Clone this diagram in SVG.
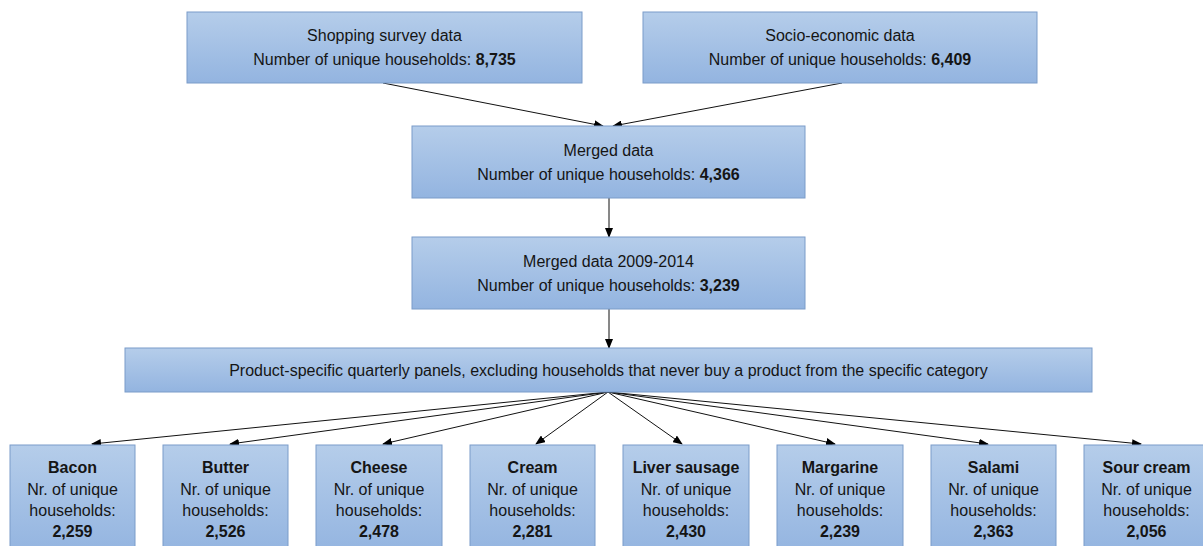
<svg xmlns="http://www.w3.org/2000/svg" width="1203" height="546" viewBox="0 0 1203 546">
<defs>
<linearGradient id="g" x1="0" y1="0" x2="0" y2="1">
<stop offset="0" stop-color="#b5cdea"/>
<stop offset="1" stop-color="#93b4e0"/>
</linearGradient>
<marker id="ah" markerWidth="10" markerHeight="8" refX="9" refY="4" orient="auto" markerUnits="userSpaceOnUse">
<path d="M0,0 L10,4 L0,8 Z" fill="#000"/>
</marker>
<style>
.box{fill:url(#g);stroke:#7b9cc9;stroke-width:1}
text{font-family:"Liberation Sans",Arial,sans-serif;font-size:16px;fill:#151515;text-anchor:middle}
.b{font-weight:bold}
.c{stroke:#111;stroke-width:1;fill:none;marker-end:url(#ah)}
</style>
</defs>
<rect width="1203" height="546" fill="#fff"/>
<g id="connectors">
<line class="c" x1="383" y1="83" x2="603" y2="126"/>
<line class="c" x1="842" y1="83" x2="613" y2="126"/>
<line class="c" x1="609" y1="198" x2="609" y2="237"/>
<line class="c" x1="609" y1="309" x2="609" y2="348"/>
<line class="c" x1="608" y1="392" x2="92" y2="444"/>
<line class="c" x1="608" y1="392" x2="230" y2="444"/>
<line class="c" x1="608" y1="392" x2="383" y2="444"/>
<line class="c" x1="608" y1="392" x2="536" y2="444"/>
<line class="c" x1="608" y1="392" x2="682" y2="444"/>
<line class="c" x1="608" y1="392" x2="835" y2="444"/>
<line class="c" x1="608" y1="392" x2="988" y2="444"/>
<line class="c" x1="608" y1="392" x2="1141" y2="444"/>
</g>
<g id="shopping">
<rect class="box" x="187" y="12" width="395" height="71"/>
<text x="384.5" y="41">Shopping survey data</text>
<text x="384.5" y="65">Number of unique households: <tspan class="b">8,735</tspan></text>
</g>
<g id="socio">
<rect class="box" x="643" y="12" width="394" height="71"/>
<text x="840" y="41">Socio-economic data</text>
<text x="840" y="65">Number of unique households: <tspan class="b">6,409</tspan></text>
</g>
<g id="merged">
<rect class="box" x="412" y="126" width="393" height="72"/>
<text x="608.5" y="156">Merged data</text>
<text x="608.5" y="180">Number of unique households: <tspan class="b">4,366</tspan></text>
</g>
<g id="merged2">
<rect class="box" x="412" y="237" width="393" height="72"/>
<text x="608.5" y="267">Merged data 2009-2014</text>
<text x="608.5" y="291">Number of unique households: <tspan class="b">3,239</tspan></text>
</g>
<g id="panels">
<rect class="box" x="125" y="348" width="967" height="44"/>
<text x="608.5" y="376">Product-specific quarterly panels, excluding households that never buy a product from the specific category</text>
</g>
<g id="bacon">
<rect class="box" x="10" y="445" width="125" height="110"/>
<text x="72.5" y="473" class="b">Bacon</text>
<text x="72.5" y="495">Nr. of unique</text>
<text x="72.5" y="516">households:</text>
<text x="72.5" y="537" class="b">2,259</text>
</g>
<g id="butter">
<rect class="box" x="163" y="445" width="125" height="110"/>
<text x="225.5" y="473" class="b">Butter</text>
<text x="225.5" y="495">Nr. of unique</text>
<text x="225.5" y="516">households:</text>
<text x="225.5" y="537" class="b">2,526</text>
</g>
<g id="cheese">
<rect class="box" x="316" y="445" width="126" height="110"/>
<text x="379" y="473" class="b">Cheese</text>
<text x="379" y="495">Nr. of unique</text>
<text x="379" y="516">households:</text>
<text x="379" y="537" class="b">2,478</text>
</g>
<g id="cream">
<rect class="box" x="470" y="445" width="125" height="110"/>
<text x="532.5" y="473" class="b">Cream</text>
<text x="532.5" y="495">Nr. of unique</text>
<text x="532.5" y="516">households:</text>
<text x="532.5" y="537" class="b">2,281</text>
</g>
<g id="liver">
<rect class="box" x="623" y="445" width="126" height="110"/>
<text x="686" y="473" class="b">Liver sausage</text>
<text x="686" y="495">Nr. of unique</text>
<text x="686" y="516">households:</text>
<text x="686" y="537" class="b">2,430</text>
</g>
<g id="margarine">
<rect class="box" x="777" y="445" width="126" height="110"/>
<text x="840" y="473" class="b">Margarine</text>
<text x="840" y="495">Nr. of unique</text>
<text x="840" y="516">households:</text>
<text x="840" y="537" class="b">2,239</text>
</g>
<g id="salami">
<rect class="box" x="931" y="445" width="125" height="110"/>
<text x="993.5" y="473" class="b">Salami</text>
<text x="993.5" y="495">Nr. of unique</text>
<text x="993.5" y="516">households:</text>
<text x="993.5" y="537" class="b">2,363</text>
</g>
<g id="sourcream">
<rect class="box" x="1084" y="445" width="125" height="110"/>
<text x="1146.5" y="473" class="b">Sour cream</text>
<text x="1146.5" y="495">Nr. of unique</text>
<text x="1146.5" y="516">households:</text>
<text x="1146.5" y="537" class="b">2,056</text>
</g>
</svg>
